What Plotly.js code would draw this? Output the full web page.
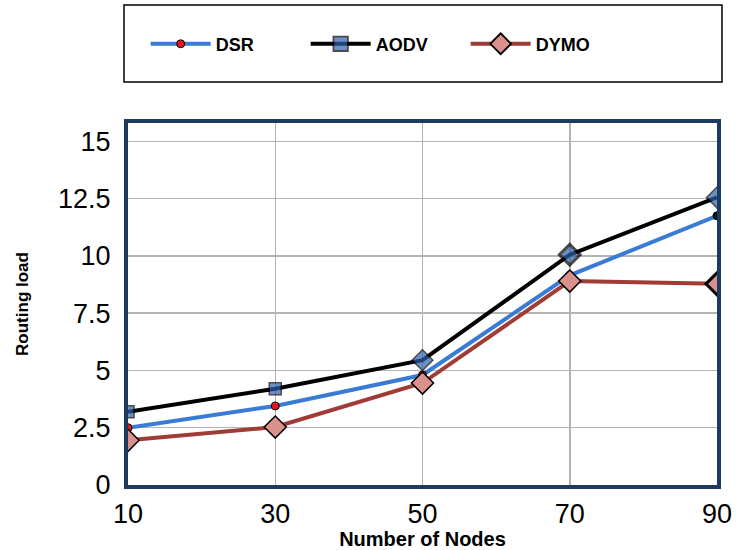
<!DOCTYPE html>
<html><head><meta charset="utf-8">
<script src="https://cdn.plot.ly/plotly-3.0.1.min.js"></script>
<style>html,body{margin:0;padding:0;background:#fff}#chart{width:738px;height:550px}</style>
</head><body><div id="chart"></div>
<script>
const nodes = [10, 30, 50, 70, 90];
const dsr = [2.5, 3.45, 4.8, 9.15, 11.75];
const aodv = [3.2, 4.2, 5.45, 10.05, 12.55];
const dymo = [1.95, 2.53, 4.45, 8.9, 8.78];
const yTicks = [0, 2.5, 5, 7.5, 10, 12.5, 15];
const xTicks = [10, 30, 50, 70, 90];

const traces = [
  {x: nodes, y: dsr, name: 'DSR', type: 'scatter', mode: 'lines+markers',
   line: {color: '#3a7bd5', width: 4},
   marker: {symbol: 'circle', size: 8, color: ['#e8141a','#e8141a','#e8141a','#111','#111'], line: {color: '#000', width: 1}}},
  {x: nodes, y: aodv, name: 'AODV', type: 'scatter', mode: 'lines+markers',
   line: {color: '#000000', width: 4},
   marker: {symbol: ['square','square','diamond','diamond','diamond'], size: [12,12,16,16,16], color: '#2e62ad', line: {color: '#000', width: [1.5,1.5,1.5,3,1.5]}}},
  {x: nodes, y: dymo, name: 'DYMO', type: 'scatter', mode: 'lines+markers',
   line: {color: '#a03c36', width: 4},
   marker: {symbol: 'diamond', size: 17, color: '#d9928b', line: {color: '#000', width: [1.5,1.5,1.5,1.5,3]}}}
];

const layout = {
  width: 738, height: 550,
  margin: {l: 128, r: 21, t: 123, b: 65, autoexpand: false},
  paper_bgcolor: '#fff', plot_bgcolor: '#fff',
  font: {family: 'Liberation Sans, Arial, sans-serif', color: '#000'},
  showlegend: true,
  legend: {orientation: 'h', x: 0.03, y: 1.218, xanchor: 'left', yanchor: 'middle',
    font: {size: 18, family: 'Liberation Sans, Arial, sans-serif', weight: 'bold'},
    entrywidth: 85, itemwidth: 60, borderwidth: 0, bgcolor: 'rgba(0,0,0,0)'},
  xaxis: {range: [10, 90], tickvals: xTicks, ticktext: xTicks.map(String),
    showgrid: true, gridcolor: '#b4b4b4', gridwidth: 1.5,
    showline: true, linecolor: '#1d3a5f', linewidth: 4, mirror: true,
    zeroline: false, ticks: '', tickfont: {size: 27}, ticklabelstandoff: 2,
    title: {text: 'Number of Nodes', font: {size: 20, weight: 'bold'}, standoff: 16}},
  yaxis: {range: [0, 15.8], tickvals: yTicks, ticktext: yTicks.map(String),
    showgrid: true, gridcolor: '#b4b4b4', gridwidth: 1.5,
    showline: true, linecolor: '#1d3a5f', linewidth: 4, mirror: true,
    zeroline: false, ticks: '', tickfont: {size: 27}, ticklabelstandoff: 8,
    title: {text: 'Routing load', font: {size: 17, weight: 'bold'}, standoff: 26}},
  shapes: [{type: 'rect', xref: 'paper', yref: 'paper',
    x0: (124-128)/589, x1: (722-128)/589, y0: (485-82)/362, y1: (485-5)/362,
    line: {color: '#000', width: 1.5}, fillcolor: 'rgba(0,0,0,0)'}]
};
Plotly.newPlot('chart', traces, layout, {displayModeBar: false, staticPlot: true});
</script></body></html>
